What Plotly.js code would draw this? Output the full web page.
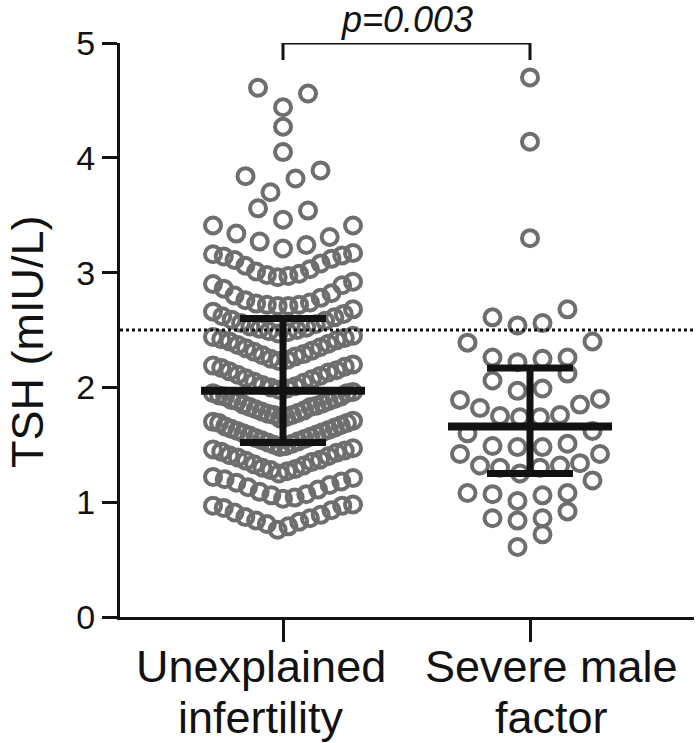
<!DOCTYPE html>
<html><head><meta charset="utf-8">
<script src="https://cdn.plot.ly/plotly-3.0.1.min.js"></script>
<style>html,body{margin:0;padding:0;background:#fff}#chart{width:696px;height:743px}</style>
</head><body><div id="chart"></div>
<script>
// ---------- data ----------
const categories = ["Unexplained infertility", "Severe male factor"];
const labelLine1 = ["Unexplained", "Severe male"];
const labelLine2 = ["infertility", "factor"];
const yTicks = [0, 1, 2, 3, 4, 5];

const unexplained = [
  4.61, 4.56, 4.44, 4.27, 4.05, 3.89, 3.84, 3.82, 3.70, 3.56, 3.54, 3.46, 3.41, 3.41, 3.34, 3.31, 3.27, 3.24, 3.21,
  3.17, 3.16, 3.15, 3.14, 3.12, 3.11, 3.08, 3.06, 3.03, 3.01, 2.99, 2.98, 2.97, 2.96,
  2.92, 2.90, 2.89, 2.86, 2.82, 2.80, 2.78, 2.76, 2.74, 2.73, 2.72, 2.72, 2.71, 2.71,
  2.68, 2.66, 2.64, 2.62, 2.61, 2.59, 2.58, 2.56, 2.55, 2.53, 2.52, 2.51, 2.50, 2.49, 2.48, 2.47,
  2.45, 2.44, 2.43, 2.42, 2.41, 2.40, 2.38, 2.37, 2.35, 2.34, 2.32, 2.31, 2.29, 2.28, 2.27, 2.25, 2.24, 2.23,
  2.20, 2.19, 2.18, 2.17, 2.15, 2.14, 2.13, 2.11, 2.10, 2.08, 2.07, 2.05, 2.04, 2.02, 2.01, 2.00, 1.99, 1.98,
  1.96, 1.95, 1.95, 1.93, 1.92, 1.92, 1.90, 1.89, 1.88, 1.88, 1.86, 1.85, 1.84, 1.83, 1.83, 1.81, 1.80, 1.79, 1.78, 1.77, 1.76, 1.76, 1.74, 1.73,
  1.71, 1.70, 1.69, 1.69, 1.67, 1.66, 1.65, 1.64, 1.63, 1.62, 1.61, 1.60, 1.59, 1.58, 1.57, 1.56, 1.55, 1.54, 1.53, 1.52, 1.51, 1.50, 1.49, 1.48,
  1.47, 1.46, 1.45, 1.44, 1.43, 1.41, 1.40, 1.39, 1.37, 1.36, 1.35, 1.33, 1.32, 1.30, 1.29, 1.28, 1.27, 1.25,
  1.22, 1.21, 1.20, 1.18, 1.17, 1.15, 1.13, 1.11, 1.09, 1.07, 1.06, 1.04, 1.03,
  0.98, 0.97, 0.97, 0.95, 0.93, 0.91, 0.89, 0.87, 0.86, 0.84, 0.83, 0.81, 0.79, 0.76
];

const severeMale = [
  4.70, 4.14, 3.30, 2.68, 2.61, 2.56, 2.54, 2.40, 2.39, 2.26, 2.26, 2.25, 2.22,
  2.12, 2.06, 1.99, 1.97, 1.90, 1.89, 1.85, 1.82, 1.76, 1.75, 1.74, 1.74,
  1.62, 1.60, 1.51, 1.49, 1.48, 1.48, 1.42, 1.42, 1.34, 1.32, 1.32, 1.30, 1.30, 1.25,
  1.19, 1.08, 1.08, 1.07, 1.06, 1.01, 0.92, 0.86, 0.86, 0.84, 0.72, 0.61
];

const medians = [1.97, 1.66];
const q1 = [1.52, 1.25];
const q3 = [2.60, 2.17];
const refLine = 2.5;
const pText = "p=0.003";
const yTitle = "TSH (mIU/L)";

// ---------- layout / style ----------
const W = 696, H = 743;
const margin = {l: 120, r: 2, t: 43, b: 126, pad: 0};
const plotW = W - margin.l - margin.r;
const plotH = H - margin.t - margin.b;
const xRange = [-0.66, 1.664];
const yRange = [0, 5];
const uPerPx = (xRange[1] - xRange[0]) / plotW;
const yPerPx = (yRange[1] - yRange[0]) / plotH;
const FONT = "Liberation Sans, Arial, Helvetica, sans-serif";
const dotColor = "#6e6e6e";
const ink = "#121212";

// Prism-like row arrangement: values binned on y, each row centred, lowest value in the middle
function swarm(values, center) {
  const binH = 0.245, binOrigin = 0.74, spacingPx = 25, maxHalfPx = 70;
  const bins = {};
  values.forEach(v => {
    const k = Math.floor((v - binOrigin) / binH + 1e-9);
    (bins[k] = bins[k] || []).push(v);
  });
  const xs = [], ys = [];
  Object.keys(bins).forEach(key => {
    const row = bins[key].slice().sort((a, b) => a - b);
    const n = row.length;
    let sp = spacingPx;
    if (n > 1 && (n - 1) * sp / 2 > maxHalfPx) sp = 2 * maxHalfPx / (n - 1);
    const slots = [];
    if (n % 2 === 1) {
      slots.push(0);
      for (let k = 1; slots.length < n; k++) { slots.push(k); if (slots.length < n) slots.push(-k); }
    } else {
      for (let k = 0; slots.length < n; k++) { slots.push(-(k + 0.5)); slots.push(k + 0.5); }
    }
    row.forEach((v, i) => { xs.push(center + slots[i] * sp * uPerPx); ys.push(v); });
  });
  return {xs, ys};
}

const groups = [unexplained, severeMale];
const traces = [];
groups.forEach((vals, i) => {
  const s = swarm(vals, i);
  traces.push({
    type: "scatter", mode: "markers", x: s.xs, y: s.ys, name: categories[i],
    marker: {symbol: "circle-open", size: 16, color: dotColor, line: {width: 4, color: dotColor}},
    hoverinfo: "y", cliponaxis: false
  });
});

const medHalf = 82 * uPerPx;
groups.forEach((vals, i) => {
  traces.push({
    type: "scatter", mode: "markers", x: [i], y: [medians[i]],
    marker: {size: 1, color: "rgba(0,0,0,0)"},
    error_y: {type: "data", symmetric: false, array: [q3[i] - medians[i]], arrayminus: [medians[i] - q1[i]],
              color: ink, thickness: 7, width: 43},
    hoverinfo: "skip"
  });
  traces.push({
    type: "scatter", mode: "lines", x: [i - medHalf, i + medHalf], y: [medians[i], medians[i]],
    line: {color: ink, width: 8}, hoverinfo: "skip"
  });
});

// significance bracket between the two groups
const bracketTop = yRange[1];
const bracketLeg = 17 * yPerPx;
traces.push({
  type: "scatter", mode: "lines", x: [0, 0, 1, 1],
  y: [bracketTop - bracketLeg, bracketTop, bracketTop, bracketTop - bracketLeg],
  line: {color: ink, width: 3}, cliponaxis: false, hoverinfo: "skip"
});

const labelShift = [-22, 21];
const annotations = [{
  x: 0.5, y: bracketTop, xref: "x", yref: "y", yanchor: "bottom", yshift: 2, borderpad: 0,
  text: "<i>" + pText + "</i>", showarrow: false, font: {family: FONT, size: 36, color: ink}
}, {
  x: 0, y: 0.479, xref: "paper", yref: "paper", xanchor: "center", yanchor: "middle", xshift: -93,
  text: yTitle, textangle: -90, showarrow: false, font: {family: FONT, size: 45, color: ink}
}];
labelLine1.forEach((t, i) => annotations.push({
  x: i, y: 0, xref: "x", yref: "y", yanchor: "top", yshift: -23, xshift: labelShift[i], borderpad: 0,
  text: t, showarrow: false, font: {family: FONT, size: 45, color: ink}
}));
labelLine2.forEach((t, i) => annotations.push({
  x: i, y: 0, xref: "x", yref: "y", yanchor: "top", yshift: -74, xshift: labelShift[i], borderpad: 0,
  text: t, showarrow: false, font: {family: FONT, size: 45, color: ink}
}));

const layout = {
  width: W, height: H, margin: margin, showlegend: false,
  paper_bgcolor: "#fff", plot_bgcolor: "#fff",
  font: {family: FONT, color: ink},
  xaxis: {
    range: xRange, tickmode: "array", tickvals: [0, 1], ticktext: ["", ""], showticklabels: false,
    showline: true, linewidth: 3, linecolor: ink, ticks: "outside", ticklen: 22, tickwidth: 3, tickcolor: ink,
    showgrid: false, zeroline: false, fixedrange: true
  },
  yaxis: {
    range: yRange, tickmode: "array", tickvals: yTicks,
    showline: true, linewidth: 3, linecolor: ink, ticks: "outside", ticklen: 15, tickwidth: 3, tickcolor: ink,
    showgrid: false, zeroline: false, tickfont: {family: FONT, size: 34, color: ink}, fixedrange: true
  },
  shapes: [{
    type: "line", xref: "paper", yref: "y", x0: 0, x1: 1, y0: refLine, y1: refLine,
    line: {color: ink, width: 3, dash: "dot"}, layer: "above"
  }],
  annotations: annotations
};

Plotly.newPlot("chart", traces, layout, {displayModeBar: false, staticPlot: true});
</script>
</body></html>
